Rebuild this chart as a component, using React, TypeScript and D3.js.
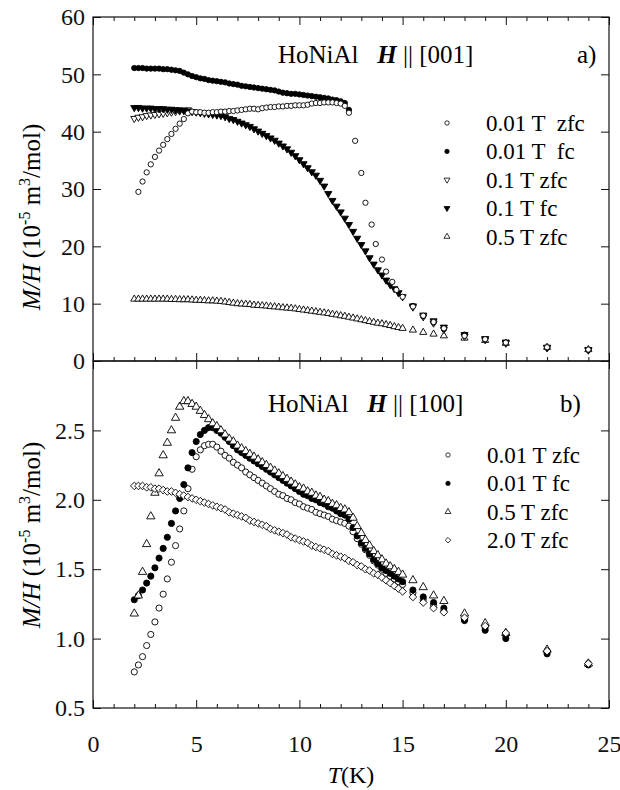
import React, { useRef, useEffect } from "react";
import * as d3 from "d3";

// temperature grid (K) used by the dense part of every run
const T_GRID = [
  2.0, 2.2, 2.4, 2.6, 2.8, 3.0, 3.2, 3.4, 3.6, 3.8,
  4.0, 4.2, 4.4, 4.6, 4.8, 5.0, 5.2, 5.4, 5.6, 5.8,
  6.0, 6.2, 6.4, 6.6, 6.8, 7.0, 7.2, 7.4, 7.6, 7.8,
  8.0, 8.2, 8.4, 8.6, 8.8, 9.0, 9.2, 9.4, 9.6, 9.8,
  10.0, 10.2, 10.4, 10.6, 10.8, 11.0, 11.2, 11.4, 11.6, 11.8,
  12.0, 12.2, 12.4, 12.6, 12.8, 13.0, 13.2, 13.4, 13.6, 13.8,
  14.0, 14.2, 14.4, 14.6, 14.8, 15.0
];
const T_TAIL = [15.5, 16, 16.5, 17, 18, 19, 20, 22, 24];
const T_TC_A = [12.7, 13.0, 13.2, 13.5, 13.7, 14.0, 14.2, 14.5, 14.7, 15.0];

// ---- panel a) H || [001], M/H in 1e-5 m3/mol ----
// 0.01 T zfc : 2.2 .. 12.4 on the grid, then T_TC_A, then tail
const A_ZFC001 = [
  29.5, 31.3, 32.9, 34.3, 35.6, 36.7, 37.7, 38.7, 39.6, 40.5,
  41.4, 42.2, 43.2, 43.5, 43.4, 43.4, 43.3, 43.3, 43.4, 43.4,
  43.5, 43.5, 43.6, 43.6, 43.7, 43.8, 43.9, 44.0, 44.0, 43.9,
  44.1, 44.2, 44.3, 44.3, 44.4, 44.4, 44.5, 44.5, 44.6, 44.6,
  44.6, 44.7, 44.9, 45.0, 45.0, 45.1, 45.1, 45.1, 45.0, 44.9,
  44.5, 43.3
];
const A_ZFC001_TC = [38.4, 32.8, 27.6, 23.8, 20.4, 17.7, 15.6, 13.8, 12.4, 11.2];
const A_ZFC001_TAIL = [9.5, 7.9, 6.8, 5.7, 4.4, 3.8, 3.2, 2.4, 2.0];

// 0.01 T fc : 2.0 .. 12.4, then tail
const A_FC001 = [
  51.1, 51.1, 51.1, 51.0, 51.0, 51.0, 51.0, 50.9, 50.9, 50.8,
  50.7, 50.6, 50.3, 50.0, 49.7, 49.5, 49.3, 49.2, 49.0, 48.9,
  48.8, 48.7, 48.6, 48.4, 48.3, 48.2, 48.0, 47.9, 47.8, 47.7,
  47.6, 47.5, 47.4, 47.3, 47.2, 47.0, 46.8, 46.7, 46.6, 46.6,
  46.5, 46.4, 46.3, 46.2, 46.1, 46.0, 45.9, 45.8, 45.6, 45.5,
  45.3, 45.0, 43.8
];
const A_FC001_TAIL = [9.6, 7.8, 6.7, 5.6, 4.6, 3.8, 3.1, 2.3, 1.9];

// 0.1 T zfc : 2.0 .. 4.6, then tail
const A_ZFC01 = [42.3, 42.5, 42.6, 42.8, 42.9, 43.0, 43.1, 43.2, 43.3, 43.4, 43.5, 43.6, 43.7, 43.8];
const A_ZFC01_TAIL = [9.4, 7.7, 6.6, 5.5, 4.3, 3.7, 3.1, 2.3, 1.9];

// 0.1 T fc : full grid, then tail
const A_FC01 = [
  44.2, 44.2, 44.1, 44.1, 44.1, 44.0, 44.0, 44.0, 43.9, 43.9,
  43.8, 43.8, 43.7, 43.6, 43.5, 43.4, 43.3, 43.2, 43.1, 43.0,
  42.9, 42.8, 42.6, 42.3, 42.1, 41.8, 41.5, 41.2, 40.9, 40.5,
  40.1, 39.7, 39.3, 38.9, 38.5, 38.0, 37.5, 37.0, 36.4, 35.8,
  35.1, 34.4, 33.7, 33.0, 32.4, 31.5, 30.5, 29.2, 28.0, 27.0,
  26.0, 24.9, 23.8, 22.6, 21.4, 20.3, 19.2, 18.0, 16.9, 15.9,
  15.0, 14.1, 13.3, 12.6, 11.9, 11.2
];
const A_FC01_TAIL = [9.6, 8.0, 7.0, 5.9, 4.6, 3.9, 3.3, 2.4, 2.0];

// 0.5 T zfc : full grid, then tail
const A_ZFC05 = [
  10.8, 10.8, 10.8, 10.8, 10.8, 10.8, 10.8, 10.8, 10.8, 10.75,
  10.75, 10.7, 10.7, 10.7, 10.65, 10.6, 10.6, 10.55, 10.5, 10.5,
  10.45, 10.4, 10.3, 10.2, 10.1, 10.0, 9.95, 9.9, 9.85, 9.75,
  9.7, 9.65, 9.6, 9.5, 9.45, 9.4, 9.3, 9.25, 9.2, 9.1,
  9.0, 8.9, 8.8, 8.7, 8.6, 8.5, 8.4, 8.3, 8.15, 8.05,
  7.9, 7.8, 7.65, 7.5, 7.35, 7.2, 7.05, 6.9, 6.75, 6.6,
  6.5, 6.35, 6.2, 6.0, 5.85, 5.7
];
const A_ZFC05_TAIL = [5.4, 5.0, 4.7, 4.4, 4.0, 3.6, 3.1, 2.4, 2.0];

// ---- panel b) H || [100] ----
const B_ZFC001 = [
  0.76, 0.81, 0.87, 0.95, 1.03, 1.12, 1.22, 1.32, 1.43, 1.55,
  1.67, 1.79, 1.92, 2.08, 2.22, 2.31, 2.36, 2.39, 2.40, 2.40,
  2.38, 2.35, 2.32, 2.30, 2.27, 2.25, 2.23, 2.20, 2.18, 2.16,
  2.14, 2.12, 2.10, 2.08, 2.06, 2.04, 2.03, 2.01, 2.00, 1.98,
  1.97, 1.95, 1.94, 1.93, 1.91, 1.90, 1.89, 1.88, 1.86, 1.85,
  1.84, 1.83, 1.81, 1.77, 1.72, 1.68, 1.64, 1.60, 1.56, 1.53,
  1.50, 1.47, 1.45, 1.43, 1.41, 1.39
];
const B_ZFC001_TAIL = [1.33, 1.28, 1.24, 1.20, 1.14, 1.08, 1.02, 0.91, 0.82];

const B_FC001 = [
  1.28, 1.31, 1.35, 1.40, 1.45, 1.51, 1.58, 1.65, 1.73, 1.83,
  1.92, 2.01, 2.11, 2.23, 2.34, 2.42, 2.47, 2.50, 2.52, 2.52,
  2.50, 2.48, 2.45, 2.42, 2.39, 2.36, 2.34, 2.32, 2.30, 2.28,
  2.26, 2.24, 2.22, 2.20, 2.18, 2.16, 2.14, 2.12, 2.10, 2.08,
  2.06, 2.04, 2.03, 2.01, 2.00, 1.98, 1.97, 1.95, 1.94, 1.92,
  1.90, 1.89, 1.86, 1.80, 1.74, 1.69, 1.65, 1.61, 1.57, 1.54,
  1.51, 1.49, 1.47, 1.45, 1.43, 1.41
];
const B_FC001_TAIL = [1.35, 1.30, 1.26, 1.22, 1.13, 1.06, 1.00, 0.89, 0.81];

const B_ZFC05 = [
  1.18, 1.31, 1.48, 1.68, 1.88, 2.05, 2.19, 2.32, 2.41, 2.50,
  2.59, 2.67, 2.71, 2.71, 2.69, 2.67, 2.64, 2.61, 2.58, 2.55,
  2.53, 2.50, 2.47, 2.44, 2.42, 2.39, 2.37, 2.35, 2.33, 2.31,
  2.29, 2.27, 2.25, 2.23, 2.21, 2.19, 2.17, 2.15, 2.13, 2.11,
  2.09, 2.08, 2.06, 2.05, 2.03, 2.02, 2.00, 1.99, 1.97, 1.96,
  1.94, 1.93, 1.91, 1.87, 1.81, 1.76, 1.71, 1.67, 1.63, 1.60,
  1.57, 1.54, 1.52, 1.50, 1.48, 1.46
];
const B_ZFC05_TAIL = [1.42, 1.37, 1.31, 1.27, 1.18, 1.11, 1.04, 0.92, 0.82];

const B_ZFC20 = [
  2.10, 2.10, 2.10, 2.09, 2.09, 2.08, 2.08, 2.07, 2.06, 2.06,
  2.05, 2.04, 2.03, 2.02, 2.01, 2.00, 1.99, 1.98, 1.97, 1.96,
  1.95, 1.94, 1.93, 1.91, 1.90, 1.89, 1.88, 1.87, 1.85, 1.84,
  1.83, 1.82, 1.81, 1.79, 1.78, 1.77, 1.76, 1.75, 1.73, 1.72,
  1.71, 1.70, 1.69, 1.67, 1.66, 1.65, 1.64, 1.63, 1.61, 1.60,
  1.59, 1.58, 1.56, 1.55, 1.53, 1.52, 1.50, 1.49, 1.47, 1.46,
  1.44, 1.42, 1.40, 1.38, 1.36, 1.34
];
const B_ZFC20_TAIL = [1.30, 1.26, 1.22, 1.19, 1.15, 1.09, 1.04, 0.91, 0.82];

const X_MAJOR = [0, 5, 10, 15, 20, 25];
const X_MINOR = [1, 2, 3, 4, 6, 7, 8, 9, 11, 12, 13, 14, 16, 17, 18, 19, 21, 22, 23, 24];
const YA_TICKS = [0, 10, 20, 30, 40, 50, 60];
const YB_TICKS = [0.5, 1.0, 1.5, 2.0, 2.5];

const LEGEND_A = ["0.01 T  zfc", "0.01 T  fc", "0.1 T zfc", "0.1 T fc", "0.5 T zfc"];
const LEGEND_B = ["0.01 T zfc", "0.01 T fc", "0.5 T zfc", "2.0 T zfc"];

const FONT = '"Liberation Serif", "Times New Roman", Times, "DejaVu Serif", serif';

const zip = (T, v) => v.map((d, i) => ({ T: T[i], v: d }));

const seriesA = [
  { key: "0.5zfc", shape: "up", filled: false, data: zip([...T_GRID, ...T_TAIL], [...A_ZFC05, ...A_ZFC05_TAIL]) },
  { key: "0.1zfc", shape: "down", filled: false, data: zip([...T_GRID.slice(0, 14), ...T_TAIL], [...A_ZFC01, ...A_ZFC01_TAIL]) },
  { key: "0.1fc", shape: "down", filled: true, data: zip([...T_GRID, ...T_TAIL], [...A_FC01, ...A_FC01_TAIL]) },
  { key: "0.01fc", shape: "circle", filled: true, data: zip([...T_GRID.slice(0, 53), ...T_TAIL], [...A_FC001, ...A_FC001_TAIL]) },
  {
    key: "0.01zfc", shape: "circle", filled: false,
    data: zip([...T_GRID.slice(1, 53), ...T_TC_A, ...T_TAIL], [...A_ZFC001, ...A_ZFC001_TC, ...A_ZFC001_TAIL])
  }
];
const legendShapesA = [
  { shape: "circle", filled: false }, { shape: "circle", filled: true },
  { shape: "down", filled: false }, { shape: "down", filled: true }, { shape: "up", filled: false }
];

const seriesB = [
  { key: "0.01zfc", shape: "circle", filled: false, data: zip([...T_GRID, ...T_TAIL], [...B_ZFC001, ...B_ZFC001_TAIL]) },
  { key: "0.01fc", shape: "circle", filled: true, data: zip([...T_GRID, ...T_TAIL], [...B_FC001, ...B_FC001_TAIL]) },
  { key: "0.5zfc", shape: "up", filled: false, data: zip([...T_GRID, ...T_TAIL], [...B_ZFC05, ...B_ZFC05_TAIL]) },
  { key: "2.0zfc", shape: "diamond", filled: false, data: zip([...T_GRID, ...T_TAIL], [...B_ZFC20, ...B_ZFC20_TAIL]) }
];
const legendShapesB = [
  { shape: "circle", filled: false }, { shape: "circle", filled: true },
  { shape: "up", filled: false }, { shape: "diamond", filled: false }
];

const symbolPath = (shape, size) => {
  const type =
    shape === "circle" ? d3.symbolCircle : shape === "diamond" ? d3.symbolDiamond2 : d3.symbolTriangle;
  return d3.symbol().type(type).size(size)();
};

const App = () => {
  const svgRef = useRef();

  const W = 620;
  const H = 790;
  const left = 93;
  const right = 609;
  const topA = 17;
  const mid = 361;
  const bottom = 708;

  const x = d3.scaleLinear().domain([0, 25]).range([left, right]);
  const yA = d3.scaleLinear().domain([0, 60]).range([mid, topA]);
  const yB = d3.scaleLinear().domain([0.5, 3.0]).range([bottom, mid]);

  useEffect(() => {
    const svg = d3.select(svgRef.current);
    svg.selectAll("*").remove();

    const styleAxis = (g) => {
      g.select(".domain").remove();
      g.selectAll(".tick line").attr("stroke", "#111").attr("stroke-width", 1);
      g.selectAll(".tick text").attr("font-family", FONT).attr("font-size", 24).attr("fill", "#111");
    };

    const addAxis = (axis, tx, ty) =>
      svg.append("g").attr("transform", `translate(${tx},${ty})`).call(axis).call(styleAxis);

    // panel a ticks
    addAxis(d3.axisTop(x).tickValues(X_MAJOR).tickSize(-8).tickFormat(""), 0, topA);
    addAxis(d3.axisTop(x).tickValues(X_MINOR).tickSize(-4).tickFormat(""), 0, topA);
    addAxis(d3.axisBottom(x).tickValues(X_MAJOR).tickSize(-8).tickFormat(""), 0, mid);
    addAxis(d3.axisBottom(x).tickValues(X_MINOR).tickSize(-4).tickFormat(""), 0, mid);
    addAxis(d3.axisLeft(yA).tickValues(YA_TICKS).tickSize(-8).tickPadding(8).tickFormat(d3.format("d")), left, 0);
    addAxis(d3.axisRight(yA).tickValues(YA_TICKS).tickSize(-8).tickFormat(""), right, 0);

    // panel b ticks
    addAxis(d3.axisTop(x).tickValues(X_MAJOR).tickSize(-8).tickFormat(""), 0, mid);
    addAxis(d3.axisBottom(x).tickValues(X_MAJOR).tickSize(-8).tickPadding(27).tickFormat(d3.format("d")), 0, bottom);
    addAxis(d3.axisBottom(x).tickValues(X_MINOR).tickSize(-4).tickFormat(""), 0, bottom);
    addAxis(d3.axisLeft(yB).tickValues(YB_TICKS).tickSize(-8).tickPadding(8).tickFormat(d3.format(".1f")), left, 0);
    addAxis(d3.axisRight(yB).tickValues(YB_TICKS).tickSize(-8).tickFormat(""), right, 0);

    // frames
    svg.append("rect").attr("x", left).attr("y", topA).attr("width", right - left).attr("height", mid - topA)
      .attr("fill", "none").attr("stroke", "#111").attr("stroke-width", 1.2);
    svg.append("rect").attr("x", left).attr("y", mid).attr("width", right - left).attr("height", bottom - mid)
      .attr("fill", "none").attr("stroke", "#111").attr("stroke-width", 1.2);

    const drawMarks = (series, y, size) => {
      for (const s of series) {
        const d = symbolPath(s.shape, s.shape === "diamond" ? size * 1.25 : size);
        svg.append("g").attr("class", `s-${s.key}`)
          .selectAll("path").data(s.data).enter().append("path")
          .attr("d", d)
          .attr("transform", (p) => `translate(${x(p.T)},${y(p.v)})${s.shape === "down" ? " rotate(180)" : ""}`)
          .attr("fill", s.filled ? "#000" : "#fff")
          .attr("stroke", "#000")
          .attr("stroke-width", 0.9);
      }
    };
    drawMarks(seriesA, yA, 22);
    drawMarks(seriesB, yB, 30);

    const drawLegend = (labels, shapes, x0, y0, dy) => {
      labels.forEach((lab, i) => {
        const sh = shapes[i];
        svg.append("path")
          .attr("d", symbolPath(sh.shape, sh.shape === "diamond" ? 20 : 15))
          .attr("transform", `translate(${x0},${y0 + i * dy})${sh.shape === "down" ? " rotate(180)" : ""}`)
          .attr("fill", sh.filled ? "#000" : "#fff")
          .attr("stroke", "#000")
          .attr("stroke-width", 0.8);
        svg.append("text")
          .attr("x", x0 + 39).attr("y", y0 + i * dy + 8)
          .style("font-family", FONT).style("font-size", "23px")
          .style("white-space", "pre")
          .text(lab);
      });
    };
    drawLegend(LEGEND_A, legendShapesA, 447, 123, 28.4);
    drawLegend(LEGEND_B, legendShapesB, 448, 455, 28.4);

    const title = (tx, ty, plane, tag, tagX) => {
      const t = svg.append("text").attr("x", tx).attr("y", ty)
        .style("font-family", FONT).style("font-size", "25px").style("white-space", "pre");
      t.append("tspan").text("HoNiAl   ");
      t.append("tspan").attr("font-weight", "bold").attr("font-style", "italic").text("H");
      t.append("tspan").text(` || ${plane}`);
      svg.append("text").attr("x", tagX).attr("y", ty)
        .style("font-family", FONT).style("font-size", "25px").text(tag);
    };
    title(278, 63, "[001]", "a)", 577);
    title(268, 412, "[100]", "b)", 560);

    const yLabel = (cy) => {
      const t = svg.append("text")
        .attr("transform", `translate(40,${cy}) rotate(-90)`)
        .attr("text-anchor", "middle")
        .style("font-family", FONT).style("font-size", "25px")
        .style("white-space", "pre");
      t.append("tspan").attr("font-style", "italic").text("M/H");
      t.append("tspan").text(" (10");
      t.append("tspan").attr("dy", -10).attr("font-size", 16).text("-5");
      t.append("tspan").attr("dy", 10).text(" m");
      t.append("tspan").attr("dy", -10).attr("font-size", 16).text("3");
      t.append("tspan").attr("dy", 10).text("/mol)");
    };
    yLabel(217);
    yLabel(535);

    const xl = svg.append("text").attr("x", x(12.5)).attr("y", 783)
      .attr("text-anchor", "middle").style("font-family", FONT).style("font-size", "24px");
    xl.append("tspan").attr("font-style", "italic").text("T");
    xl.append("tspan").text("(K)");
    // eslint-disable-next-line react-hooks/exhaustive-deps
  }, []);

  return (
    <svg
      ref={svgRef}
      width={W}
      height={H}
      style={{ position: "absolute", left: 0, top: 0, background: "#fff", fontFamily: FONT }}
      xmlns="http://www.w3.org/2000/svg"
    />
  );
};

export default App;
